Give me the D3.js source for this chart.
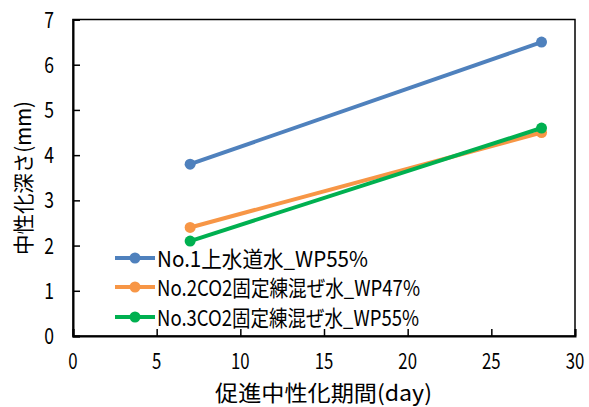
<!DOCTYPE html>
<html><head><meta charset="utf-8">
<script src="https://cdn.jsdelivr.net/npm/d3@7"></script>
<style>
html,body{margin:0;padding:0;background:#fff;}
text{font-family:"Liberation Sans Narrow","Noto Sans CJK JP",sans-serif;fill:#000;}
</style></head>
<body>
<svg id="c" width="589" height="407"></svg>
<script>
const days = [7, 28];
const seriesNames = ["No.1上水道水_WP55%", "No.2CO2固定練混ぜ水_WP47%", "No.3CO2固定練混ぜ水_WP55%"];
const series1 = [3.8, 6.5];
const series2 = [2.4, 4.5];
const series3 = [2.1, 4.6];
const colors = ["#4F81BD", "#F79646", "#00B050"];
const xTicks = [0, 5, 10, 15, 20, 25, 30];
const yTicks = [0, 1, 2, 3, 4, 5, 6, 7];
const xTitle = "促進中性化期間(day)";
const yTitle = "中性化深さ(mm)";

const allSeries = [series1, series2, series3];
const svg = d3.select("#c");
const L = 73, R = 575, T = 19.5, B = 336;
const x = d3.scaleLinear().domain([0, 30]).range([L, R]);
const y = d3.scaleLinear().domain([0, 7]).range([B, T]);
const SX = 0.78;

// frame
svg.append("rect").attr("x", L).attr("y", T).attr("width", R - L).attr("height", B - T)
  .attr("fill", "none").attr("stroke", "#000").attr("stroke-width", 1.5);

// axes
const xAxis = d3.axisBottom(x).tickValues(xTicks).tickSize(-7).tickFormat("");
const gx = svg.append("g").attr("transform", `translate(0,${B})`).call(xAxis);
const yAxis = d3.axisLeft(y).tickValues(yTicks).tickSize(-7).tickFormat("");
const gy = svg.append("g").attr("transform", `translate(${L},0)`).call(yAxis);
[gx, gy].forEach(g => {
  g.select(".domain").attr("stroke", "#000").attr("stroke-width", 2);
  g.selectAll(".tick line").attr("stroke", "#000").attr("stroke-width", 1.5);
});

// tick labels (narrow digits)
svg.append("g").selectAll("text").data(xTicks).join("text")
  .attr("transform", d => `translate(${x(d)},369) scale(${SX},1)`)
  .attr("text-anchor", "middle").attr("font-size", 21.5).text(d => d);
svg.append("g").selectAll("text").data(yTicks).join("text")
  .attr("transform", d => `translate(54,${y(d) + 8}) scale(${SX},1)`)
  .attr("text-anchor", "end").attr("font-size", 22.5).text(d => d);

// titles
svg.append("text").attr("x", 215).attr("y", 401).attr("font-size", 22)
  .attr("textLength", 217).attr("lengthAdjust", "spacingAndGlyphs").text(xTitle);
svg.append("text").attr("transform", "translate(22,178) rotate(-90)")
  .attr("text-anchor", "middle").attr("dominant-baseline", "central")
  .attr("font-size", 21).attr("textLength", 154).attr("lengthAdjust", "spacingAndGlyphs").text(yTitle);

// lines
const line = d3.line().x((d, i) => x(days[i])).y(d => y(d));
allSeries.forEach((s, k) => {
  svg.append("path").datum(s).attr("d", line).attr("fill", "none")
    .attr("stroke", colors[k]).attr("stroke-width", 4);
  svg.append("g").selectAll("circle").data(s).join("circle")
    .attr("cx", (d, i) => x(days[i])).attr("cy", d => y(d)).attr("r", 5.5)
    .attr("fill", colors[k]);
});

// legend
const legY = [258, 287, 317];
const legLen = [211, 263, 262];
seriesNames.forEach((n, k) => {
  const g = svg.append("g");
  g.append("line").attr("x1", 115).attr("x2", 155).attr("y1", legY[k]).attr("y2", legY[k])
    .attr("stroke", colors[k]).attr("stroke-width", 4);
  g.append("circle").attr("cx", 135).attr("cy", legY[k]).attr("r", 5.5).attr("fill", colors[k]);
  g.append("text").attr("x", 157).attr("y", legY[k] + 8.5).attr("font-size", 22)
    .attr("textLength", legLen[k]).attr("lengthAdjust", "spacingAndGlyphs").text(n);
});
</script>
</body></html>
